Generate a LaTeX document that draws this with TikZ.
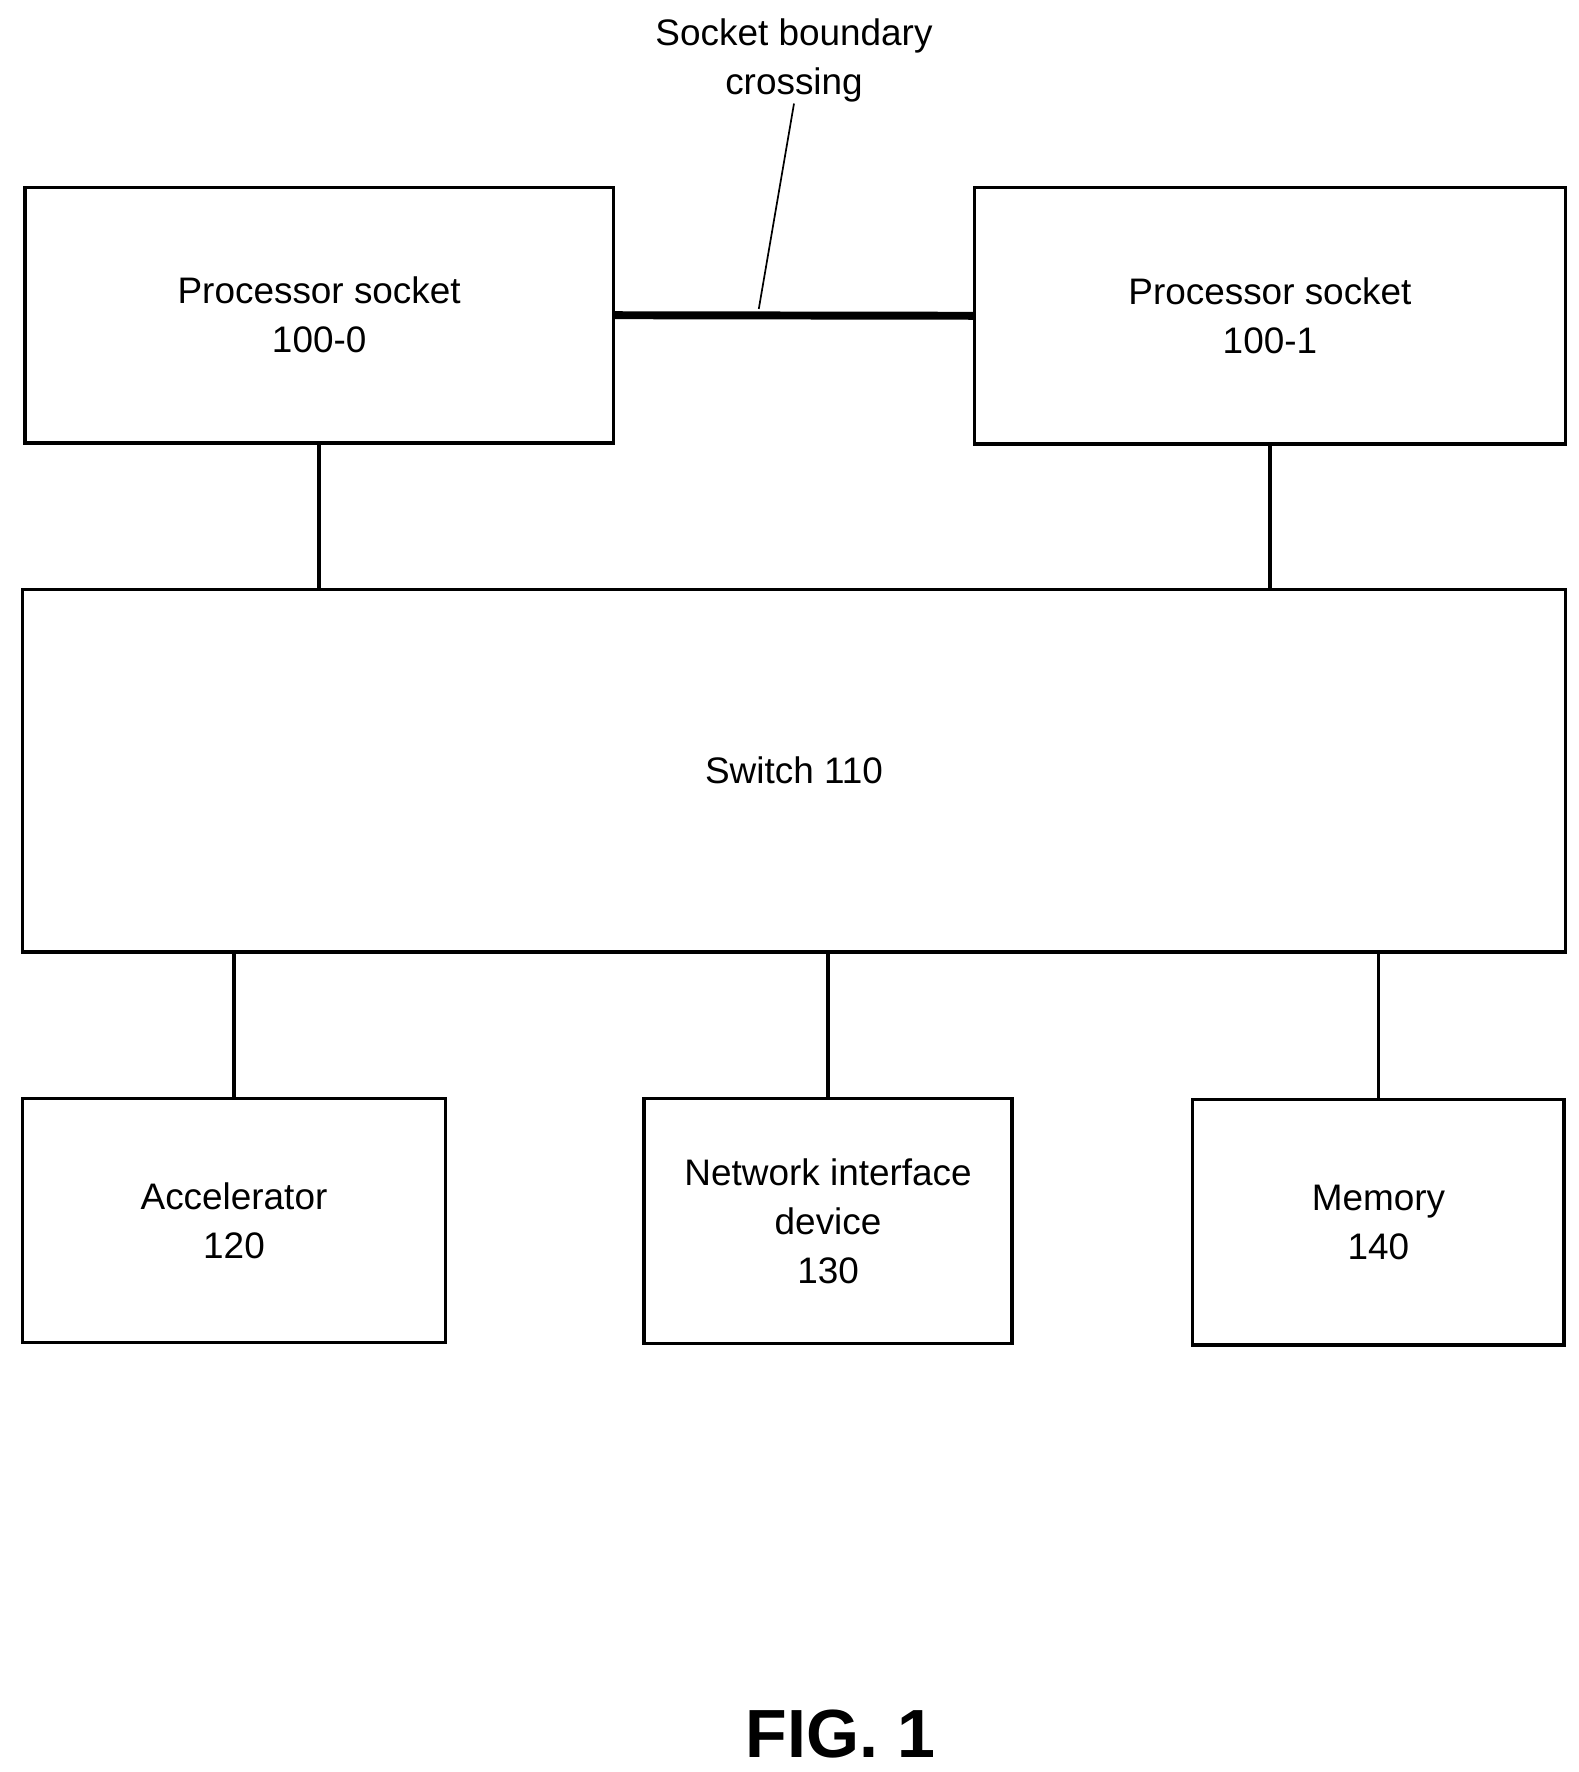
\documentclass[tikz,border=0pt]{standalone}
\usepackage{fontspec}
\setmainfont{Liberation Sans}
\begin{document}
\begin{tikzpicture}[x=1pt,y=-1pt,
  box/.style={draw,line width=3pt,align=center,font=\fontsize{32.5}{43}\selectfont},
  ln/.style={line width=3pt}]
\useasboundingbox (0,0) rectangle (1390,1560);
\node[box,minimum width=518pt,minimum height=225pt] (p0) at (281,277.5) {Processor socket\\100-0};
\node[box,minimum width=520pt,minimum height=226pt] (p1) at (1118,278) {Processor socket\\100-1};
\node[box,minimum width=1358pt,minimum height=319pt] (sw) at (699,678.5) {Switch 110};
\node[box,minimum width=372pt,minimum height=215pt] (acc) at (206,1074.5) {Accelerator\\120};
\node[box,minimum width=324pt,minimum height=216pt] (nid) at (729,1075) {Network interface\\device\\130};
\node[box,minimum width=327pt,minimum height=216pt] (mem) at (1213.5,1076) {Memory\\140};
\draw[line width=7pt] (p0.east) -- (p1.east -| p1.west);
\node[align=center,font=\fontsize{32.5}{43}\selectfont] (lbl) at (699,53) {Socket boundary\\crossing};
\coordinate (lt) at (668,272);
\draw[line width=1.5pt] (lbl.south) ++(0,-2) -- (lt);
\draw[ln] (p0.south) -- (p0.south |- sw.north);
\draw[ln] (p1.south) -- (p1.south |- sw.north);
\draw[ln] (acc.north) -- (acc.north |- sw.south);
\draw[ln] (nid.north) -- (nid.north |- sw.south);
\draw[ln] (mem.north) -- (mem.north |- sw.south);
\node[font=\fontsize{60}{62}\selectfont\bfseries] (fig) at (740,1527) {FIG. 1};
\end{tikzpicture}
\end{document}
